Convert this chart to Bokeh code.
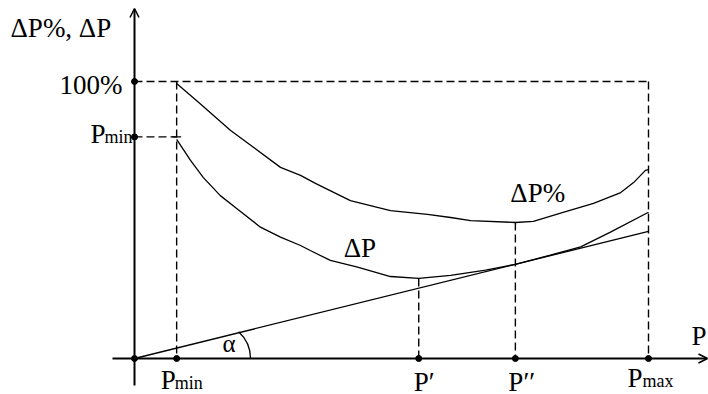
import math
from bokeh.plotting import figure
from bokeh.models import Range1d, Arrow, OpenHead
from bokeh.core.properties import value
from bokeh.embed import file_html
from bokeh.resources import INLINE

# Characteristic powers on the P axis (Pmax = 100)
P_MIN = 8.2
P_PRIME = 55.3
P_DPRIME = 74.1
P_MAX = 100.0
PMIN_LEVEL = 80.0          # Pmin marked on the vertical axis
FULL_LEVEL = 100.0         # 100 % level

# Relative losses dP% versus P
dpp_x = [8.2, 12.5, 18.7, 23.2, 28.4, 32.3, 35.2, 42.0, 49.8, 57.0, 61.5, 65.4,
         74.1, 77.6, 82.9, 89.3, 94.6, 97.1, 99.4, 100.0]
dpp_y = [99.3, 92.4, 82.3, 76.2, 69.0, 66.1, 63.2, 57.0, 53.4, 52.0, 50.9, 49.8,
         49.1, 49.5, 52.5, 56.0, 59.9, 63.5, 67.9, 68.2]

# Absolute losses dP versus P
dp_x = [8.2, 10.9, 13.4, 16.7, 20.0, 24.5, 28.4, 32.3, 34.2, 38.1, 43.4, 49.8,
        55.3, 61.5, 68.3, 74.1, 80.9, 86.8, 92.6, 100.0]
dp_y = [79.1, 71.5, 65.3, 58.8, 54.0, 47.4, 43.8, 40.8, 39.0, 35.4, 33.0, 29.6,
        28.9, 30.0, 31.9, 34.0, 37.3, 40.3, 45.6, 52.8]

# Tangent from the origin, slope tan(alpha)
TANGENT_SLOPE = 34.0 / P_DPRIME
tan_x = [0.0, P_MAX]
tan_y = [0.0, TANGENT_SLOPE * P_MAX]

# Screen scale: 5.14 px per unit of P, 2.77 px per percent
X0, Y0 = 134, 358
SX, SY = 5.14, 2.77
W, H = 708, 394

p = figure(width=W, height=H,
           x_range=Range1d(-X0 / SX, (W - X0) / SX),
           y_range=Range1d(-(H - Y0) / SY, Y0 / SY),
           x_axis_type=None, y_axis_type=None,
           output_backend="svg", toolbar_location=None,
           min_border=0, outline_line_color=None)
p.grid.visible = False
p.background_fill_color = "white"

DASH = "8 4"

# Axes with arrow heads
p.add_layout(Arrow(end=OpenHead(size=9, line_width=1.5, line_color="black"),
                   x_start=(112 - X0) / SX, y_start=0, x_end=(707 - X0) / SX, y_end=0,
                   line_width=2, line_color="black"))
p.add_layout(Arrow(end=OpenHead(size=9, line_width=1.5, line_color="black"),
                   x_start=0, y_start=-(385 - Y0) / SY, x_end=0, y_end=(Y0 - 8) / SY,
                   line_width=2, line_color="black"))

# Dashed construction lines
p.line([0, P_MAX], [FULL_LEVEL, FULL_LEVEL], line_dash=DASH, line_color="black", line_width=1.4)
p.line([P_MAX, P_MAX], [FULL_LEVEL, 0], line_dash=DASH, line_color="black", line_width=1.4)
p.line([P_MIN, P_MIN], [FULL_LEVEL, 0], line_dash=DASH, line_color="black", line_width=1.4)
p.line([0, P_MIN], [PMIN_LEVEL, PMIN_LEVEL], line_dash=DASH, line_color="black", line_width=1.4)
p.line([P_PRIME, P_PRIME], [min(dp_y), 0], line_dash=DASH, line_color="black", line_width=1.4)
p.line([P_DPRIME, P_DPRIME], [min(dpp_y), 0], line_dash=DASH, line_color="black", line_width=1.4)

# Curves and tangent
p.line(dpp_x, dpp_y, line_color="black", line_width=1.3)
p.line(dp_x, dp_y, line_color="black", line_width=1.3)
p.line(tan_x, tan_y, line_color="black", line_width=1.3)

# Angle alpha between the tangent and the P axis
arc_r = 36
arc_cx = (116 - arc_r) / SX
p.arc(x=[arc_cx], y=[0], radius=arc_r, radius_units="screen",
      start_angle=0, end_angle=math.radians(48), line_color="black", line_width=1.3)

# Marked points on the axes
p.scatter([0, 0, 0, P_MIN, P_PRIME, P_DPRIME, P_MAX],
          [FULL_LEVEL, PMIN_LEVEL, 0, 0, 0, 0, 0],
          marker="circle", size=6, color="black")
p.scatter([P_MIN], [PMIN_LEVEL], marker="dash", size=9, line_color="black", line_width=1.3)

FONT = value("Times New Roman")
BIG = "27px"
SUB = "18px"


def label(x, y, text, dx, dy, size=BIG, align="left"):
    p.text(x=[x], y=[y], text=[text], x_offset=dx, y_offset=dy - 10,
           text_font=FONT, text_font_size=size, text_align=align,
           text_baseline="alphabetic", text_color="black")


# Axis titles and level labels
label(0, 0, "ΔP%, ΔP", -124, -321)
label(0, FULL_LEVEL, "100%", -12, 13, align="right")
label(0, PMIN_LEVEL, "P", -44, 7)
label(0, PMIN_LEVEL, "min", -30, 10, size=SUB)
label(P_MAX, 0, "P", 43, -13)

# P axis labels
label(P_MIN, 0, "P", -16, 31)
label(P_MIN, 0, "min", -2, 34, size=SUB)
label(P_PRIME, 0, "P′", -5, 33)
label(P_DPRIME, 0, "P′′", -7, 33)
label(P_MAX, 0, "P", -21, 29)
label(P_MAX, 0, "max", -6, 32, size=SUB)

# Curve labels
label(P_DPRIME, min(dpp_y), "ΔP%", -5, -19)
label(P_PRIME, min(dp_y), "ΔP", -75, -20)
label(0, 0, "α", 88, -5, size="25px")

open("out.html", "w").write(file_html(p, INLINE))
